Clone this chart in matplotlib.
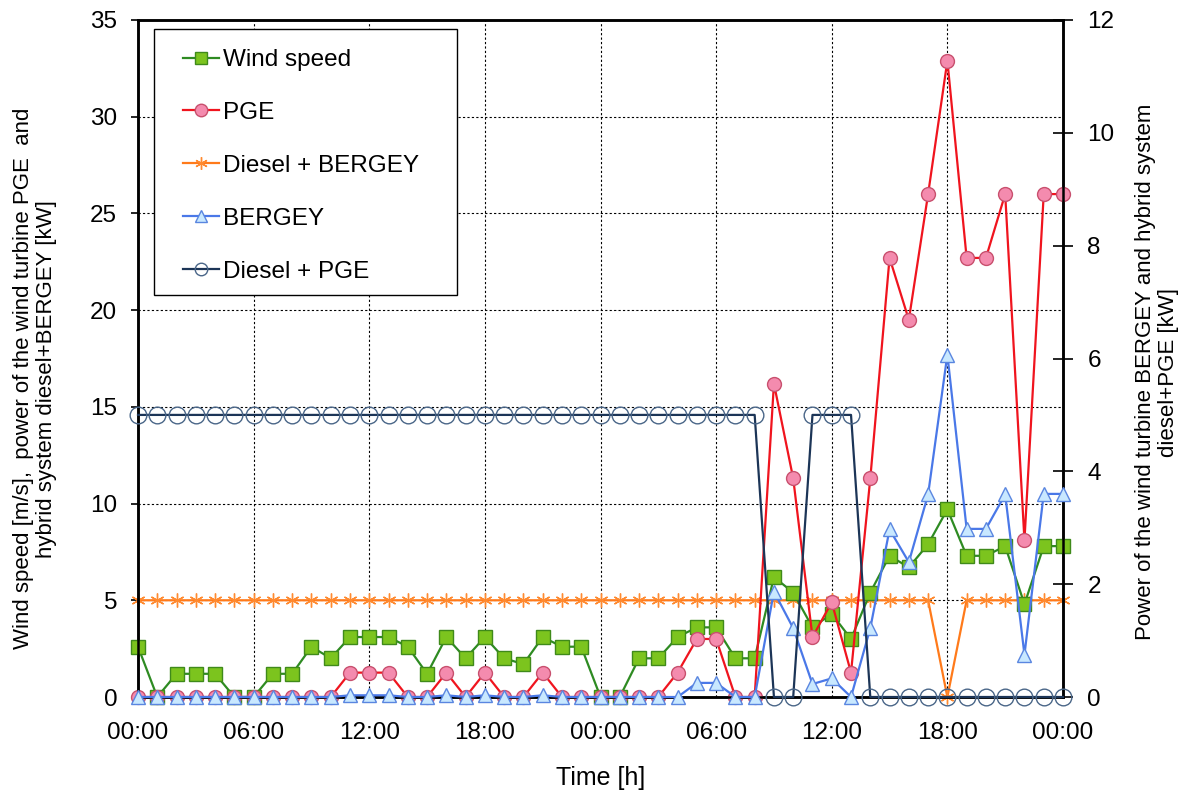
import matplotlib
matplotlib.use("Agg")
import matplotlib.pyplot as plt
from matplotlib.patches import Rectangle

plt.rcParams['font.family'] = ['Liberation Sans', 'DejaVu Sans']

hours = list(range(49))
tick_labels = ["00:00", "06:00", "12:00", "18:00", "00:00", "06:00", "12:00", "18:00", "00:00"]

wind_speed = [2.6, 0, 1.2, 1.2, 1.2, 0, 0, 1.2, 1.2, 2.6, 2.0, 3.1, 3.1, 3.1, 2.6, 1.2,
              3.1, 2.0, 3.1, 2.0, 1.7, 3.1, 2.6, 2.6, 0, 0, 2.0, 2.0, 3.1, 3.6, 3.6, 2.0,
              2.0, 6.2, 5.4, 3.6, 4.3, 3.0, 5.4, 7.3, 6.7, 7.9, 9.7, 7.3, 7.3, 7.8, 4.8, 7.8, 7.8]
pge = [0, 0, 0, 0, 0, 0, 0, 0, 0, 0, 0, 1.26, 1.26, 1.26, 0, 0,
       1.26, 0, 1.26, 0, 0, 1.26, 0, 0, 0, 0, 0, 0, 1.26, 3.0, 3.0, 0,
       0, 16.2, 11.3, 3.1, 4.9, 1.26, 11.3, 22.7, 19.5, 26.0, 32.9, 22.7, 22.7, 26.0, 8.1, 26.0, 26.0]
diesel_bergey = [5] * 42 + [0] + [5] * 6
bergey = [0, 0, 0, 0, 0, 0, 0, 0, 0, 0, 0, 0.03, 0.03, 0.03, 0, 0,
          0.03, 0, 0.03, 0, 0, 0.03, 0, 0, 0, 0, 0, 0, 0, 0.25, 0.25, 0,
          0, 1.87, 1.22, 0.23, 0.33, 0, 1.22, 2.97, 2.39, 3.59, 6.07, 2.98, 2.98, 3.59, 0.75, 3.6, 3.6]
diesel_pge = [5] * 33 + [0, 0, 5, 5, 5] + [0] * 11

W, H = 1187, 796
fig = plt.figure(figsize=(W / 100, H / 100), dpi=100)
ax = fig.add_axes([138 / W, 1 - 697 / H, 925 / W, 677 / H])
ax2 = ax.twinx()

ax.plot(hours, wind_speed, color='#2E8B22', lw=1.6, marker='s', ms=10,
        mfc='#7CC41E', mec='#3F8A1A', mew=1.0, clip_on=False, zorder=3, label='Wind speed')
ax.plot(hours, pge, color='#F0141E', lw=1.6, marker='o', ms=10,
        mfc='#F48BAE', mec='#C8506E', mew=1.0, clip_on=False, zorder=3, label='PGE')
ax.plot(hours, diesel_bergey, color='#FF7A1A', lw=1.6, marker=(6, 2, 0), ms=10,
        mec='#FF8A30', mew=1.0, clip_on=False, zorder=2, label='Diesel + BERGEY')
ax2.plot(hours, bergey, color='#4A78E8', lw=1.6, marker='^', ms=10,
         mfc='#C8E8FF', mec='#5A86E0', mew=1.0, clip_on=False, zorder=3, label='BERGEY')
ax2.plot(hours, diesel_pge, color='#1C3557', lw=1.6, marker='o', ms=12,
         mfc='none', mec='#4A6688', mew=1.0, clip_on=False, zorder=3, label='Diesel + PGE')

ax.set_xlim(0, 48)
ax.set_ylim(0, 35)
ax2.set_ylim(0, 12)
ax.set_xticks(range(0, 49, 6))
ax.set_xticklabels(tick_labels)
ax.set_yticks(range(0, 36, 5))
ax2.set_yticks(range(0, 13, 2))

ax.grid(True, color='black', linestyle=(0, (2, 2)), lw=0.8)
ax.set_axisbelow(True)

for a in (ax, ax2):
    for s in a.spines.values():
        s.set_linewidth(1.8)
        s.set_color('black')
ax.tick_params(axis='y', labelsize=17.5, length=5, width=1.2, pad=10)
ax.tick_params(axis='x', labelsize=17.5, length=0, pad=18)
ax2.tick_params(axis='y', labelsize=17.5, length=15, width=1.2, direction='inout', pad=10)

ax.set_xlabel('Time [h]', fontsize=18, labelpad=16)
ax.set_ylabel('Wind speed [m/s],  power of the wind turbine PGE  and\nhybrid system diesel+BERGEY [kW]',
              fontsize=16, linespacing=1.15)
ax2.set_ylabel('Power of the wind turbine BERGEY and hybrid system\ndiesel+PGE [kW]',
               fontsize=16, linespacing=1.15)
ax.yaxis.set_label_coords((57 - 138) / 925, 0.47)
ax2.yaxis.set_label_coords((1135 - 138) / 925, 0.48)

# legend frame
frame = Rectangle((154 / W, 1 - 295 / H), (457 - 154) / W, (295 - 29) / H,
                  transform=fig.transFigure, facecolor='white', edgecolor='black',
                  lw=1.0, zorder=4)
ax2.add_artist(frame)

h1, l1 = ax.get_legend_handles_labels()
h2, l2 = ax2.get_legend_handles_labels()
leg = ax2.legend(h1 + h2, l1 + l2, loc='upper left', bbox_to_anchor=(183 / W, 1 - 49 / H),
                 bbox_transform=fig.transFigure, fontsize=17.5, frameon=False,
                 handlelength=1.5, handletextpad=0.15, labelspacing=1.27,
                 borderpad=0, borderaxespad=0)
leg.set_zorder(5)
for h in leg.legend_handles:
    h.set_markersize(9)

fig.savefig('out.png', dpi=100)
